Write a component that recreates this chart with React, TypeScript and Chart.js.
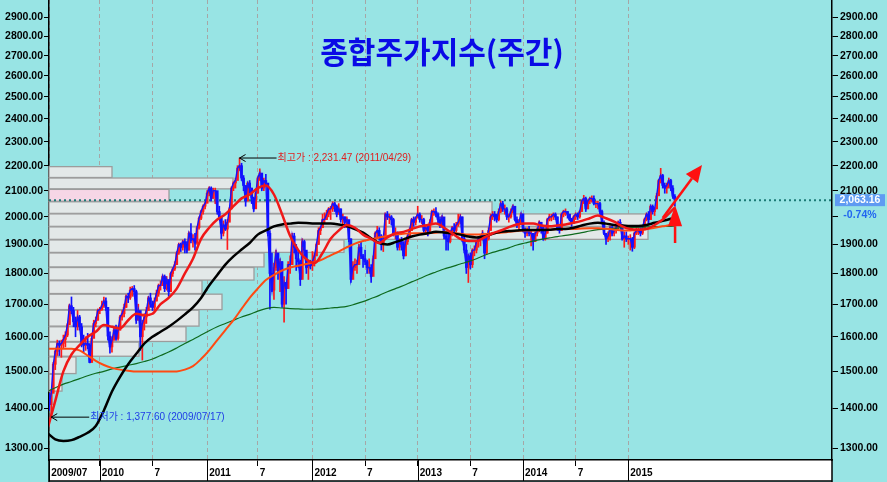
import React, { useEffect, useRef } from "react";
import { Chart, registerables } from "chart.js";
Chart.register(...registerables);

// ---------- DATA ----------
const title = "종합주가지수(주간)";
// weekly candles, week 0 = 2009/07/03
const firstOpen = 1400;
const closes = [
  1420,1410,1440,1520,1557,1580,1575,1580,1592,1605,
  1636,1695,1680,1645,1630,1660,1630,1580,1575,1580,
  1575,1525,1595,1640,1650,1680,1683,1695,1710,1690,
  1602,1570,1590,1620,1595,1620,1660,1670,1690,1725,
  1720,1745,1750,1740,1650,1680,1600,1640,1660,1680,
  1720,1700,1690,1710,1735,1760,1760,1790,1750,1780,
  1740,1800,1815,1830,1870,1900,1890,1910,1900,1880,
  1940,1915,1920,1905,1960,1995,2020,2040,2051,2090,
  2110,2070,2100,2100,2020,2000,1940,1970,1955,1980,
  2030,2110,2130,2140,2190,2200,2150,2120,2060,2130,
  2110,2070,2030,2090,2150,2170,2110,2140,2130,1940,
  1800,1745,1820,1870,1810,1840,1700,1770,1750,1830,
  1830,1930,1890,1850,1840,1780,1910,1880,1820,1830,
  1826,1840,1860,1900,1950,1960,1990,1990,2010,2030,
  2030,2050,2040,2010,2030,1990,2000,1980,1990,1920,
  1780,1820,1830,1830,1890,1860,1850,1840,1820,1820,
  1790,1850,1940,1950,1930,1900,1920,2010,2000,2000,
  1990,1940,1940,1890,1910,1900,1860,1910,1930,1950,
  1990,1980,1997,2010,1990,1990,1950,1960,1950,1980,
  2020,2020,2010,1990,1970,2000,1930,1920,1910,1940,
  1960,1950,1970,1980,2000,1920,1880,1820,1860,1830,
  1880,1880,1910,1920,1920,1940,1870,1920,1950,2000,
  2010,2000,1990,2020,2050,2030,2030,2000,2000,2020,
  2040,1990,1970,1980,2011,1950,1940,1950,1940,1940,
  1910,1940,1950,1980,1960,1920,1940,1990,2000,2000,
  2010,2000,1960,1950,2010,2020,2020,2010,1990,1980,
  2000,2010,2000,2020,2060,2070,2030,2060,2070,2070,
  2050,2050,2050,2020,1980,1940,1920,1930,1960,1940,
  1950,1960,1980,1970,1920,1930,1920,1920,1920,1890,
  1940,1950,1950,1940,1960,1990,2010,1990,2040,2020,
  2030,2080,2140,2160,2120,2110,2120,2140,2110,2078,
  2063.16,
];
const highs = [
  1445,1440,1450,1525,1560,1590,1588,1590,1605,1615,
  1640,1700,1723,1690,1660,1680,1665,1640,1605,1600,
  1610,1580,1605,1650,1660,1685,1690,1710,1723,1720,
  1690,1615,1600,1630,1635,1630,1665,1680,1700,1730,
  1735,1755,1757,1760,1745,1700,1665,1650,1670,1690,
  1725,1735,1710,1720,1745,1765,1775,1795,1795,1790,
  1770,1805,1820,1840,1875,1905,1905,1915,1920,1910,
  1945,1975,1935,1940,1965,2000,2025,2045,2055,2100,
  2115,2115,2110,2110,2090,2040,2000,1985,1990,1990,
  2035,2115,2135,2150,2200,2231.47,2210,2160,2120,2135,
  2140,2110,2075,2095,2155,2187,2165,2150,2165,2120,
  1950,1870,1835,1880,1860,1850,1840,1790,1770,1840,
  1860,1940,1940,1900,1875,1845,1920,1915,1870,1845,
  1845,1875,1870,1905,1960,1965,2010,2015,2025,2035,
  2040,2057,2055,2045,2050,2030,2010,2000,2000,1985,
  1920,1840,1850,1845,1900,1910,1865,1880,1845,1850,
  1830,1860,1945,1965,1960,1935,1925,2015,2020,2010,
  2005,1995,1960,1945,1920,1925,1910,1915,1935,1960,
  1995,2000,2000,2040,2015,2005,1995,1970,1965,1990,
  2025,2030,2035,2015,2000,2005,1995,1945,1940,1950,
  1965,1975,1980,2010,2010,2000,1930,1900,1865,1870,
  1885,1895,1915,1925,1935,1950,1935,1930,1960,2010,
  2020,2020,2010,2030,2060,2059,2045,2035,2010,2030,
  2045,2040,2000,1990,2015,2010,1960,1960,1965,1950,
  1935,1945,1960,1985,1980,1965,1950,1995,2010,2010,
  2015,2015,2000,1965,2015,2025,2030,2020,2010,1995,
  2005,2015,2015,2025,2065,2082,2075,2065,2075,2080,
  2080,2060,2060,2055,2025,1985,1940,1945,1965,1965,
  1960,1970,1985,1990,1970,1945,1945,1930,1935,1925,
  1945,1965,1960,1960,1965,1995,2015,2020,2045,2045,
  2035,2090,2145,2189,2165,2130,2130,2150,2145,2120,
  2085,
];
const lows = [
  1390,1395,1377.6,1445,1505,1545,1545,1540,1565,1570,
  1600,1640,1670,1630,1600,1620,1620,1570,1555,1560,
  1565,1524,1530,1600,1630,1650,1670,1680,1690,1680,
  1590,1552,1555,1590,1590,1590,1620,1650,1660,1690,
  1705,1715,1725,1725,1640,1650,1560,1532,1620,1640,
  1680,1690,1680,1680,1710,1725,1745,1760,1740,1745,
  1725,1745,1790,1810,1830,1865,1875,1880,1870,1870,
  1880,1905,1890,1880,1900,1955,1990,2010,2030,2060,
  2080,2060,2070,2050,2010,1990,1920,1930,1950,1882,
  1985,2040,2100,2110,2150,2180,2140,2100,2040,2060,
  2090,2050,2020,2040,2090,2140,2100,2100,2120,1930,
  1684,1740,1715,1810,1780,1740,1690,1644,1700,1760,
  1800,1830,1870,1810,1820,1760,1790,1860,1800,1780,
  1815,1810,1825,1860,1900,1935,1960,1975,1990,2000,
  1990,2020,2020,2000,2010,1980,1970,1960,1960,1910,
  1770,1790,1810,1800,1840,1850,1820,1830,1800,1800,
  1770,1800,1860,1925,1915,1880,1875,1930,1990,1975,
  1970,1930,1920,1880,1880,1880,1850,1860,1900,1930,
  1950,1965,1970,1995,1980,1975,1940,1935,1930,1945,
  1975,2005,2000,1975,1960,1960,1920,1880,1880,1905,
  1930,1940,1945,1965,1975,1910,1870,1800,1770,1815,
  1820,1860,1870,1890,1895,1915,1850,1865,1915,1950,
  1990,1985,1980,1985,2015,2020,2010,1990,1980,1995,
  2015,1985,1960,1950,1975,1945,1925,1930,1930,1895,
  1880,1910,1930,1945,1940,1915,1915,1940,1985,1985,
  1990,1990,1950,1940,1950,2000,2005,1995,1985,1965,
  1975,1990,1990,1995,2020,2050,2020,2030,2050,2055,
  2045,2035,2030,2010,1975,1935,1900,1910,1915,1930,
  1930,1940,1955,1960,1915,1890,1910,1900,1880,1876,
  1885,1935,1935,1930,1935,1955,1985,1975,1990,2010,
  2005,2030,2080,2130,2110,2090,2090,2110,2100,2070,
  2040,
];

// moving averages, sampled every MA_STEP weeks (last point = last week)
const MA_STEP = 4;
const ma20 = [
  1345,1420,1500,1548,1575,1600,1615,1635,1630,1625,
  1650,1670,1665,1670,1700,1720,1750,1800,1850,1920,
  1960,1990,2010,2040,2070,2085,2110,2120,2085,2010,
  1930,1880,1848,1835,1870,1920,1950,1970,1960,1935,
  1920,1905,1925,1940,1945,1955,1965,1970,1975,1960,
  1940,1920,1912,1912,1925,1940,1950,1962,1972,1975,
  1975,1968,1965,1968,1972,1978,1985,1995,2005,1995,
  1982,1965,1955,1953,1955,1970,1990,2020,
  2035,
];
const ma60 = [
  1338,1322,1318,1320,1328,1338,1355,1395,1445,1485,
  1520,1550,1580,1600,1615,1630,1648,1668,1690,1720,
  1760,1795,1830,1858,1882,1905,1935,1950,1965,1972,
  1975,1978,1977,1975,1975,1975,1972,1966,1955,1942,
  1922,1905,1900,1908,1918,1928,1935,1940,1945,1943,
  1940,1935,1928,1925,1928,1938,1945,1948,1950,1952,
  1952,1952,1953,1955,1955,1960,1968,1975,1978,1975,
  1970,1968,1966,1966,1970,1978,1985,1993,
  1998,
];
const ma120 = [
  1565,1565,1565,1565,1560,1545,1530,1518,1510,1505,
  1502,1500,1500,1500,1500,1500,1500,1505,1515,1535,
  1560,1590,1620,1650,1685,1720,1750,1778,1795,1810,
  1820,1826,1832,1838,1848,1862,1875,1890,1903,1912,
  1918,1925,1930,1935,1938,1940,1940,1940,1942,1945,
  1942,1938,1935,1935,1937,1940,1942,1945,1948,1950,
  1950,1952,1953,1955,1955,1955,1957,1958,1958,1956,
  1953,1950,1950,1952,1955,1960,1965,1970,
  1972,
];
const ma240 = [
  1445,1455,1465,1472,1480,1488,1495,1500,1507,1512,
  1517,1522,1528,1535,1545,1555,1567,1580,1592,1605,
  1618,1630,1640,1650,1660,1668,1678,1686,1690,1688,
  1686,1685,1684,1684,1685,1688,1690,1693,1700,1708,
  1718,1728,1740,1750,1760,1772,1783,1795,1805,1815,
  1823,1832,1840,1850,1862,1872,1880,1888,1898,1905,
  1912,1918,1923,1928,1932,1937,1942,1948,1953,1956,
  1958,1960,1961,1962,1963,1964,1965,1965,
  1966,
];

// price-volume profile (price bands and relative volume)
const profileLow = [2152,2107,2059,2013,1965,1918,1872,1822,1778,1734,1683,1632,1586,1543,1494,1446];
const profileHigh = [2196,2150,2105,2057,2011,1963,1916,1870,1820,1776,1732,1681,1630,1584,1541,1492];
const profileVolume = [63,184,120,443,599,599,295,215,205,153,173,150,137,90,27,13];
const PROFILE_MAX = 783;
const currentBin = 2;

const yTicks = [1300,1400,1500,1600,1700,1800,1900,2000,2100,2200,2300,2400,2500,2600,2700,2800,2900];
const xTickWeeks = [1,26,52,79,104,131,157,183,209,235,261,287];
const xTickLabels = ["2009/07","2010","7","2011","7","2012","7","2013","7","2014","7","2015"];

const highMark = { week: 95, value: 2231.47, label: "최고가 : 2,231.47 (2011/04/29)" };
const lowMark = { week: 2, value: 1377.6, label: "최저가 : 1,377.60 (2009/07/17)" };
const lastValue = 2063.16;
const lastValueText = "2,063.16";
const lastChangeText = "-0.74%";
// trend arrows (week, price)
const arrowDiag = { from: [304, 1996], to: [323.4, 2203] };
const arrowUp = { from: [310.1, 1905], to: [310.1, 2044] };

const X_MIN = 0.9;
const X_MAX = 387.6;
const Y_MIN = 1272;
const Y_MAX = 2994.6;

const BG = "#98E4E4";
const FONT = '"Liberation Sans", Arial, "Noto Sans CJK KR", sans-serif';

function drawArrow(ctx: CanvasRenderingContext2D, x1: number, y1: number, x2: number, y2: number, headLen: number, headHalf: number, color: string, lw: number) {
  const ang = Math.atan2(y2 - y1, x2 - x1);
  const bx = x2 - headLen * Math.cos(ang);
  const by = y2 - headLen * Math.sin(ang);
  ctx.save();
  ctx.strokeStyle = color;
  ctx.fillStyle = color;
  ctx.lineWidth = lw;
  ctx.beginPath();
  ctx.moveTo(x1, y1);
  ctx.lineTo(bx, by);
  ctx.stroke();
  ctx.beginPath();
  ctx.moveTo(x2, y2);
  ctx.lineTo(bx + headHalf * Math.sin(ang), by - headHalf * Math.cos(ang));
  ctx.lineTo(bx - headHalf * Math.sin(ang), by + headHalf * Math.cos(ang));
  ctx.closePath();
  ctx.fill();
  ctx.restore();
}

const decorPlugin = {
  id: "decor",
  beforeDraw(chart: any) {
    const { ctx, chartArea: a, width, height } = chart;
    ctx.save();
    ctx.fillStyle = BG;
    ctx.fillRect(0, 0, width, height);
    ctx.fillStyle = "#FFFFFF";
    ctx.fillRect(a.left, a.bottom, a.right - a.left, height - a.bottom - 1);
    ctx.restore();
  },
  beforeDatasetsDraw(chart: any) {
    const { ctx, chartArea: a, scales } = chart;
    const y = scales.y;
    ctx.save();
    for (let i = 0; i < profileLow.length; i++) {
      const top = y.getPixelForValue(profileHigh[i]);
      const bot = y.getPixelForValue(profileLow[i]);
      const len = (profileVolume[i] / PROFILE_MAX) * (a.right - a.left);
      ctx.fillStyle = i === currentBin ? "#F6D6E6" : "#E3E8E8";
      ctx.fillRect(a.left, top, len, bot - top);
      ctx.strokeStyle = "#9C9C9C";
      ctx.lineWidth = 1.3;
      ctx.strokeRect(a.left, top, len, bot - top);
    }
    const ly = y.getPixelForValue(lastValue);
    ctx.setLineDash([2, 3]);
    ctx.strokeStyle = "#1C7A76";
    ctx.lineWidth = 2;
    ctx.beginPath();
    ctx.moveTo(a.left, ly);
    ctx.lineTo(a.right, ly);
    ctx.stroke();
    ctx.restore();
  },
  afterDraw(chart: any) {
    const { ctx, chartArea: a, scales, width, height } = chart;
    const x = scales.x;
    const y = scales.y;
    ctx.save();
    // x band: year separators and frame
    ctx.strokeStyle = "#000";
    ctx.lineWidth = 1;
    xTickWeeks.forEach((w, i) => {
      if (xTickLabels[i] !== "7") {
        const px = Math.round(x.getPixelForValue(w)) + 0.5;
        ctx.beginPath();
        ctx.moveTo(px, a.bottom);
        ctx.lineTo(px, height - 1);
        ctx.stroke();
      }
    });
    ctx.lineWidth = 1.5;
    ctx.beginPath();
    ctx.moveTo(a.left, height - 1);
    ctx.lineTo(a.right, height - 1);
    ctx.moveTo(a.left, a.bottom);
    ctx.lineTo(a.left, height);
    ctx.moveTo(a.right, a.bottom);
    ctx.lineTo(a.right, height);
    ctx.stroke();

    // high annotation
    const hx = x.getPixelForValue(highMark.week);
    const hy = y.getPixelForValue(highMark.value);
    ctx.strokeStyle = "#000";
    ctx.lineWidth = 1;
    ctx.beginPath();
    ctx.moveTo(hx, hy);
    ctx.lineTo(hx + 37, hy);
    ctx.moveTo(hx + 6, hy - 3.5);
    ctx.lineTo(hx, hy);
    ctx.lineTo(hx + 6, hy + 3.5);
    ctx.stroke();
    ctx.font = "10px " + FONT;
    ctx.textAlign = "left";
    ctx.textBaseline = "middle";
    ctx.fillStyle = "#E01E1E";
    ctx.fillText(highMark.label, hx + 38, hy);

    // low annotation
    const lx = x.getPixelForValue(lowMark.week);
    const lyy = y.getPixelForValue(lowMark.value);
    ctx.beginPath();
    ctx.moveTo(lx, lyy);
    ctx.lineTo(lx + 38, lyy);
    ctx.moveTo(lx + 6, lyy - 3.5);
    ctx.lineTo(lx, lyy);
    ctx.lineTo(lx + 6, lyy + 3.5);
    ctx.stroke();
    ctx.fillStyle = "#1E3CE6";
    ctx.fillText(lowMark.label, lx + 39, lyy);

    // trend arrows
    drawArrow(ctx,
      x.getPixelForValue(arrowDiag.from[0]), y.getPixelForValue(arrowDiag.from[1]),
      x.getPixelForValue(arrowDiag.to[0]), y.getPixelForValue(arrowDiag.to[1]),
      17, 7.5, "#FF1010", 2.5);
    drawArrow(ctx,
      x.getPixelForValue(arrowUp.from[0]), y.getPixelForValue(arrowUp.from[1]),
      x.getPixelForValue(arrowUp.to[0]), y.getPixelForValue(arrowUp.to[1]),
      21, 7, "#FF1010", 2.5);

    // current value tag
    const ly = y.getPixelForValue(lastValue);
    ctx.fillStyle = BG;
    ctx.fillRect(a.right + 7, ly + 8, width - a.right - 7, 14);
    ctx.fillStyle = "#5F9BF2";
    ctx.fillRect(a.right + 3, ly - 6, width - a.right - 5, 12);
    ctx.fillStyle = "#FFFFFF";
    ctx.font = "bold 10.5px " + FONT;
    ctx.textAlign = "center";
    ctx.fillText(lastValueText, (a.right + 3 + width - 2) / 2, ly);
    ctx.fillStyle = "#2266F0";
    ctx.fillText(lastChangeText, (a.right + 3 + width - 2) / 2, ly + 15);

    // title
    ctx.fillStyle = "#0A0AE6";
    ctx.font = 'bold 30px "Noto Sans CJK KR", sans-serif';
    ctx.textAlign = "center";
    ctx.textBaseline = "middle";
    ctx.fillText(title, 442, 52);
    ctx.restore();
  },
};

export default function App() {
  const canvasRef = useRef<HTMLCanvasElement | null>(null);

  useEffect(() => {
    document.body.style.margin = "0";
    const canvas = canvasRef.current;
    if (!canvas) return;

    const opens = closes.map((c, i) => (i === 0 ? firstOpen : closes[i - 1]));
    const idx = closes.map((_, i) => i);
    const isUp = (i: number) => closes[i] >= opens[i];
    const upIdx = idx.filter((i) => isUp(i));
    const downIdx = idx.filter((i) => !isUp(i));
    const wick = (ids: number[]) => ids.map((i) => ({ x: i, y: [lows[i], highs[i]] }));
    const body = (ids: number[]) => ids.map((i) => ({ x: i, y: [Math.min(opens[i], closes[i]), Math.max(opens[i], closes[i])] }));
    const maWeeks = ma20.map((_, i) => Math.min(i * MA_STEP, closes.length - 1));
    const maSeries = (arr: number[]) => arr.map((v, i) => ({ x: maWeeks[i], y: v }));

    const lineDs = (label: string, data: any[], color: string, w: number, order: number, tension: number) => ({
      type: "line" as const,
      label,
      data,
      borderColor: color,
      backgroundColor: color,
      borderWidth: w,
      pointRadius: 0,
      tension,
      cubicInterpolationMode: tension > 0 ? ("monotone" as const) : ("default" as const),
      order,
      clip: 0,
    });
    const barDs = (label: string, data: any[], color: string, thick: number, order: number) => ({
      type: "bar" as const,
      label,
      data,
      backgroundColor: color,
      borderWidth: 0,
      barThickness: thick,
      grouped: false,
      order,
      clip: 0,
    });

    const yAxisCommon = {
      type: "logarithmic" as const,
      min: Y_MIN,
      max: Y_MAX,
      bounds: "data" as const,
      afterBuildTicks: (s: any) => {
        s.ticks = yTicks.map((v) => ({ value: v }));
      },
      ticks: {
        autoSkip: false,
        color: "#000",
        font: { family: FONT, size: 10.5, weight: "bold" as const },
        callback: (v: any) => Number(v).toFixed(2),
      },
      grid: { drawOnChartArea: false, drawTicks: true, color: "#000", tickColor: "#000", tickWidth: 1 },
      border: { display: true, color: "#000", width: 1.5 },
    };

    const chart = new Chart(canvas, {
      type: "bar",
      data: {
        datasets: [
          barDs("upWick", wick(upIdx), "#FF1A1A", 1, 13),
          barDs("upBody", body(upIdx), "#FF1A1A", 2, 12),
          barDs("downWick", wick(downIdx), "#1010FF", 1, 11),
          barDs("downBody", body(downIdx), "#1010FF", 2, 10),
          lineDs("Close", closes.map((c, i) => ({ x: i, y: c })), "#1414FF", 1.4, 6, 0),
          lineDs("MA240", maSeries(ma240), "#0E6A1E", 1.2, 4, 0.4),
          lineDs("MA120", maSeries(ma120), "#FF4A12", 2, 3, 0.4),
          lineDs("MA60", maSeries(ma60), "#000000", 2.5, 2, 0.4),
          lineDs("MA20", maSeries(ma20), "#F01818", 2.5, 1, 0.4),
        ] as any,
      },
      options: {
        responsive: false,
        animation: false,
        devicePixelRatio: 1,
        events: [],
        layout: { padding: 0 },
        plugins: { legend: { display: false }, tooltip: { enabled: false }, title: { display: false } },
        scales: {
          x: {
            type: "linear",
            position: "bottom",
            min: X_MIN,
            max: X_MAX,
            offset: false,
            afterFit: (s: any) => {
              s.height = 22;
              s.paddingLeft = 0;
              s.paddingRight = 0;
            },
            afterBuildTicks: (s: any) => {
              s.ticks = xTickWeeks.map((v) => ({ value: v }));
            },
            ticks: {
              autoSkip: false,
              maxRotation: 0,
              minRotation: 0,
              align: "start",
              labelOffset: 2,
              padding: 1,
              color: "#000",
              font: { family: FONT, size: 10, weight: "bold" },
              callback: (v: any) => {
                const k = xTickWeeks.indexOf(Number(v));
                return k >= 0 ? xTickLabels[k] : "";
              },
            },
            grid: {
              display: true,
              drawOnChartArea: true,
              drawTicks: true,
              tickLength: 6,
              color: "#A6A6A6",
              lineWidth: 1,
              tickColor: "#000",
              tickWidth: 1,
              tickBorderDash: [],
              offset: false,
            },
            border: { display: true, color: "#000", width: 1.5, dash: [4, 3] },
          },
          y: {
            ...yAxisCommon,
            position: "left",
            afterFit: (s: any) => {
              s.width = 49;
              s.paddingTop = 0;
              s.paddingBottom = 0;
            },
            ticks: { ...yAxisCommon.ticks, padding: 1 },
            grid: { ...yAxisCommon.grid, tickLength: 5 },
          },
          y1: {
            ...yAxisCommon,
            position: "right",
            afterFit: (s: any) => {
              s.width = 55;
              s.paddingTop = 0;
              s.paddingBottom = 0;
            },
            ticks: { ...yAxisCommon.ticks, padding: 2 },
            grid: { ...yAxisCommon.grid, tickLength: 6 },
          },
        },
      } as any,
      plugins: [decorPlugin],
    });

    return () => {
      chart.destroy();
    };
  }, []);

  return (
    <div style={{ position: "absolute", left: 0, top: 0, width: 887, height: 482 }}>
      <canvas ref={canvasRef} width={887} height={482} style={{ display: "block", width: 887, height: 482 }} />
    </div>
  );
}
